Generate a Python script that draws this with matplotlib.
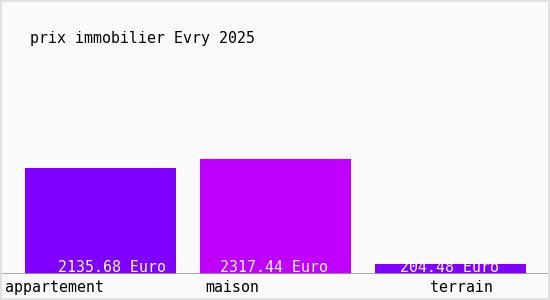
import matplotlib
matplotlib.use("Agg")
import matplotlib.pyplot as plt
from matplotlib.patches import Rectangle

# donnees du graphique
categories = ["appartement", "maison", "terrain"]
prix = [2135.68, 2317.44, 204.48]
etiquettes = ["2135.68 Euro", "2317.44 Euro", "204.48 Euro"]
couleurs = ["#8000ff", "#c000ff", "#8000ff"]
titre = "prix immobilier Evry 2025"

police = "DejaVu Sans Mono"

fig = plt.figure(figsize=(5.5, 3.0), dpi=100, facecolor="#fafafa")
# cadre gris clair autour de l'image
fig.patches.append(Rectangle((0.001, 0.002), 0.997, 0.995, transform=fig.transFigure,
                             fill=False, edgecolor="#dddddd", linewidth=1.2))

# axe qui couvre toute la largeur, base a y=274 px
ax = fig.add_axes([0, 26 / 300, 1, 274 / 300])
ax.set_facecolor("none")
pos = list(range(len(categories)))
ax.bar(pos, prix, width=151 / 175, color=couleurs)
ax.set_xlim(-100.5 / 175, (550 - 100.5) / 175)
ax.set_ylim(0, 5521)
ax.axhline(0, color="#999999", linewidth=1.2)
ax.axis("off")

# valeurs dans les barres
decal_val = [12, -2, -1]
for i in pos:
    ax.annotate(etiquettes[i], xy=(i, 0), xytext=(decal_val[i], 2), textcoords="offset pixels",
                ha="center", va="baseline", color="white", fontsize=10.7, family=police)

# noms des categories sous la ligne
decal_cat = [-95.5, -70.5, -20.5]
for i in pos:
    ax.annotate(categories[i], xy=(i, 0), xytext=(decal_cat[i], -18), textcoords="offset pixels",
                ha="left", va="baseline", color="black", fontsize=10.7, family=police,
                annotation_clip=False)

fig.text(30 / 550, 1 - 43 / 300, titre, ha="left", va="baseline",
         fontsize=10.7, family=police, color="black")

fig.savefig("out.png", dpi=100, facecolor=fig.get_facecolor())
